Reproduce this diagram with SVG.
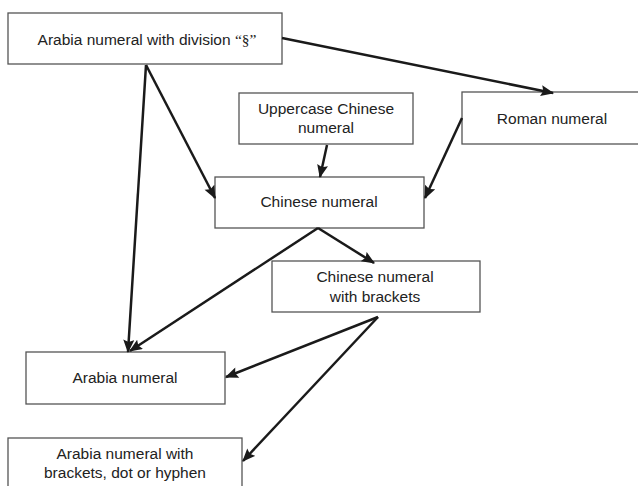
<svg xmlns="http://www.w3.org/2000/svg" width="638" height="486" viewBox="0 0 638 486">
<defs>
<style>
.box{fill:#fff;stroke:#555;stroke-width:1.3}
.t{font-family:"Liberation Sans",Arial,sans-serif;font-size:15.5px;fill:#222;text-anchor:middle}
.s{font-family:"Liberation Serif","Times New Roman",serif}
.c{stroke:#1a1a1a;stroke-width:2.5;fill:none;marker-end:url(#ah)}
</style>
<marker id="ah" viewBox="0 0 12 10" refX="11" refY="5" markerWidth="14" markerHeight="11" markerUnits="userSpaceOnUse" orient="auto">
<path d="M0,0 L12,5 L0,10 L2,5 Z" fill="#1a1a1a"/>
</marker>
</defs>
<rect width="638" height="486" fill="#fff"/>
<g id="n1"><rect class="box" x="8" y="13" width="274" height="51"/><text class="t" x="147" y="45">Arabia numeral with division <tspan class="s">“§”</tspan></text></g>
<g id="n2"><rect class="box" x="239" y="93" width="174" height="51"/><text class="t" x="326" y="114">Uppercase Chinese</text><text class="t" x="326" y="133">numeral</text></g>
<g id="n3"><rect class="box" x="462" y="92" width="180" height="52"/><text class="t" x="552" y="124">Roman numeral</text></g>
<g id="n4"><rect class="box" x="215" y="177" width="209" height="51"/><text class="t" x="319" y="207">Chinese numeral</text></g>
<g id="n5"><rect class="box" x="272" y="261" width="208" height="51"/><text class="t" x="375" y="282">Chinese numeral</text><text class="t" x="375" y="302">with brackets</text></g>
<g id="n6"><rect class="box" x="26" y="352" width="199" height="52"/><text class="t" x="125" y="383">Arabia numeral</text></g>
<g id="n7"><rect class="box" x="8" y="438" width="234" height="60"/><text class="t" x="125" y="459">Arabia numeral with</text><text class="t" x="125" y="478">brackets, dot or hyphen</text></g>
<g id="connectors">
<line class="c" x1="282" y1="38" x2="553" y2="93"/>
<line class="c" x1="146" y1="65" x2="215" y2="198"/>
<line class="c" x1="146" y1="65" x2="128" y2="352"/>
<line class="c" x1="327" y1="145" x2="320" y2="177"/>
<line class="c" x1="462" y1="118" x2="425" y2="198"/>
<line class="c" x1="318" y1="228" x2="374" y2="263"/>
<line class="c" x1="318" y1="228" x2="130" y2="351"/>
<line class="c" x1="378" y1="317" x2="226" y2="377"/>
<line class="c" x1="378" y1="317" x2="243" y2="461"/>
</g>
</svg>
